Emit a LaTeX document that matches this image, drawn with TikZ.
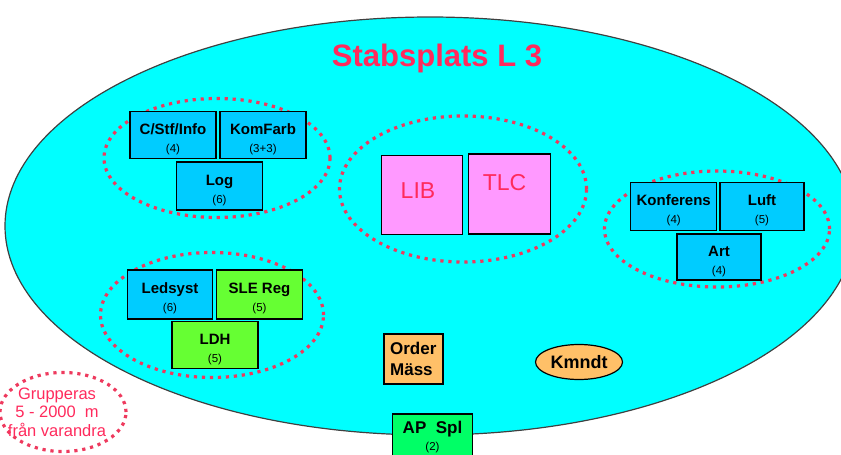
\documentclass[tikz,border=0pt]{standalone}
\usepackage{fontspec}
\setmainfont{Liberation Sans}
\usetikzlibrary{shapes.geometric}
\definecolor{lagcyan}{HTML}{00FFFF}
\definecolor{unitblue}{HTML}{00CCFF}
\definecolor{unitgreen}{HTML}{66FF33}
\definecolor{apgreen}{HTML}{00FF66}
\definecolor{unitpink}{HTML}{FF99FF}
\definecolor{unitorange}{HTML}{FFC068}
\definecolor{grpred}{HTML}{EE3A5E}
\definecolor{textred}{HTML}{FF2A5C}
\newcommand{\unittext}[2]{\rule{0pt}{19pt}#1\\[1.5pt]{\fontsize{11.5}{12}\selectfont\mdseries(#2)}}

\begin{document}
\begin{tikzpicture}[x=1pt,y=-1pt,
		unit/.style={draw=black, line width=1.4pt, fill=unitblue,
			minimum width=86pt, minimum height=47pt, inner sep=0pt,
			align=center, font=\fontsize{15}{16.5}\selectfont\bfseries},
		grp/.style={ellipse, draw=grpred, line width=3.2pt,
			dash pattern=on 3.2pt off 4.8pt, inner sep=0pt},
		big/.style={draw=black, line width=1.4pt, fill=unitpink,
			inner sep=0pt, text=textred, font=\fontsize{23}{23}\selectfont}
	]
		\useasboundingbox (0,0) rectangle (841,455);
		\clip (0,0) rectangle (841,455);

		% the staff area
		\node[
			ellipse, draw=black!75, line width=1.2pt, fill=lagcyan,
			minimum width=850pt, minimum height=418pt, inner sep=0pt
		] (stab) at (430,226) {};
		\node[text=textred, font=\fontsize{31}{31}\selectfont\bfseries]
			(title) at (437,58) {Stabsplats L 3};

		% groupings
		\node[grp, minimum width=226pt, minimum height=119pt] (grpstf) at (217,158) {};
		\node[grp, minimum width=223pt, minimum height=125pt] (grpled) at (212,315) {};
		\node[grp, minimum width=247pt, minimum height=146pt] (grpmid) at (463,189) {};
		\node[grp, minimum width=225pt, minimum height=116pt] (grpkonf) at (717,229) {};
		\node[grp, minimum width=126pt, minimum height=79pt] (grpnote) at (63,412) {};
		\node[text=textred, align=center, font=\fontsize{16.5}{18.5}\selectfont]
			(note) at (57,412) {Grupperas\\5 - 2000~~m\\från varandra};

		% units
		\node[unit] (cstf) at (173,135) {\unittext{C/Stf/Info}{4}};
		\node[unit] (komfarb) at (263,135) {\unittext{KomFarb}{3+3}};
		\node[unit, minimum height=48pt] (log) at (219.5,186) {\unittext{Log}{6}};

		\node[unit, minimum width=85pt, minimum height=49pt] (ledsyst) at (170,294.5) {\unittext{Ledsyst}{6}};
		\node[unit, fill=unitgreen, minimum height=49pt] (sle) at (259.5,294.5) {\unittext{SLE Reg}{5}};
		\node[unit, fill=unitgreen] (ldh) at (215,345) {\unittext{LDH}{5}};

		\node[big, minimum width=81pt, minimum height=79pt,
			label={[text=textred, font=\fontsize{23}{23}\selectfont, xshift=-4pt, yshift=4pt]center:LIB}
		] (lib) at (422,195) {};
		\node[big, minimum width=82pt, minimum height=80pt,
			label={[text=textred, font=\fontsize{23}{23}\selectfont, xshift=-5pt, yshift=11pt]center:TLC}
		] (tlc) at (509.5,194) {};

		\node[unit, minimum height=48pt] (konf) at (673.7,206.5) {\unittext{Konferens}{4}};
		\node[unit, minimum width=84pt, minimum height=48pt] (luft) at (762,206.5) {\unittext{Luft}{5}};
		\node[unit, minimum width=84pt, minimum height=46pt] (art) at (719,257) {\unittext{Art}{4}};

		\node[unit, fill=unitorange, minimum width=59pt, minimum height=50pt,
			align=left, font=\fontsize{17}{21}\selectfont\bfseries
		] (order) at (413.3,359) {Order\\Mäss};
		\node[
			ellipse, draw=black, line width=1.2pt, fill=unitorange,
			minimum width=87pt, minimum height=35pt, inner sep=0pt,
			font=\fontsize{18}{18}\selectfont\bfseries
		] (kmndt) at (579,362) {Kmndt};
		\node[unit, fill=apgreen, minimum width=80pt, minimum height=46pt,
			font=\fontsize{17}{19}\selectfont\bfseries
		] (apspl) at (432.5,437) {AP~~Spl\\[-1.5pt]{\fontsize{11.5}{12}\selectfont\mdseries(2)}};

	\end{tikzpicture}
\end{document}
